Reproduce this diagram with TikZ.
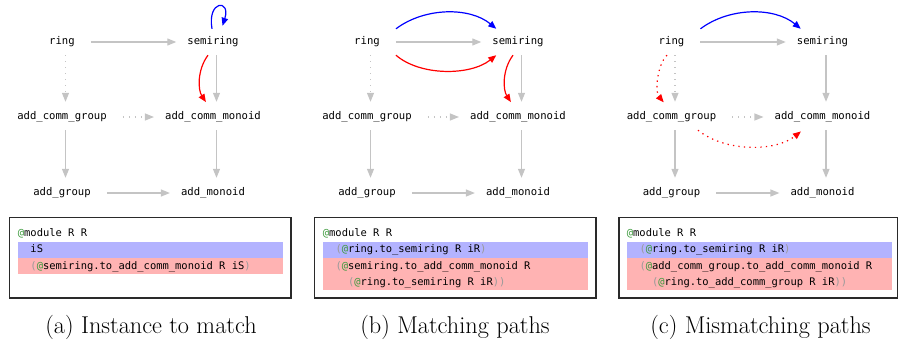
\documentclass[tikz,border=0pt]{standalone}
\usepackage{fontspec}
\setmonofont{DejaVu Sans Mono}
\usetikzlibrary{arrows.meta}
\definecolor{edgegray}{HTML}{C4C4C4}
\definecolor{bandblue}{HTML}{B3B3FF}
\definecolor{bandred}{HTML}{FFB3B3}
\definecolor{atgreen}{HTML}{3E9A3E}
\definecolor{pargray}{HTML}{9A9A9A}
\definecolor{boxline}{HTML}{2A2A2A}
\newcommand{\cAt}{\textcolor{atgreen}{@}}
\newcommand{\cLp}{\textcolor{pargray}{(}}
\newcommand{\cRp}{\textcolor{pargray}{)}}
\begin{document}
\begin{tikzpicture}[x=1pt,y=-1pt,
  gnode/.style={font=\ttfamily\fontsize{10.6}{12}\selectfont, inner xsep=9pt, inner ysep=0pt,
    minimum height=26pt, text height=7.6pt, text depth=2.4pt, execute at end node={\kern7pt}},
  codeline/.style={font=\ttfamily\fontsize{10.45}{12}\selectfont, anchor=base west, inner sep=0pt},
  caption/.style={font=\fontsize{24.3}{29}\selectfont, anchor=base, inner sep=0pt},
  garrow/.style={draw=edgegray, line width=1.2pt, -{Triangle[length=9pt,width=7pt]}, shorten >=2pt},
  gdot/.style={garrow, dash pattern=on 1pt off 5pt},
  bluearrow/.style={draw=blue, line width=1.2pt, -{Triangle[length=8pt,width=6.5pt]}},
  redarrow/.style={draw=red, line width=1.2pt, -{Triangle[length=8pt,width=6.5pt]}},
  reddot/.style={redarrow, dash pattern=on 1.3pt off 4.2pt},
  codebox/.style={draw=boxline, line width=1.3pt}
]
\useasboundingbox (0,0) rectangle (899,343);

\foreach \p/\dx in {a/0,b/305,c/609.5}{
  \begin{scope}[xshift=\dx pt]
    \node[gnode] (ring\p) at (65.5,42) {ring};
    \node[gnode] (semi\p) at (216.5,42) {semiring};
    \node[gnode] (acg\p) at (65.5,117) {add\_comm\_group};
    \node[gnode] (acm\p) at (216.5,117) {add\_comm\_monoid};
    \node[gnode] (ag\p) at (65.5,193) {add\_group};
    \node[gnode] (am\p) at (216.5,193) {add\_monoid};
  \end{scope}
  \draw[garrow] (ring\p) -- (semi\p);
  \draw[gdot] (ring\p) -- (acg\p);
  \draw[garrow] (semi\p) -- (acm\p);
  \draw[gdot] (acg\p) -- (acm\p);
  \draw[garrow] (acg\p) -- (ag\p);
  \draw[garrow] (acm\p) -- (am\p);
  \draw[garrow] (ag\p) -- (am\p);
}

% panel a extras
\draw[bluearrow] ([xshift=-4.5pt]semia.north) .. controls (207,0) and (231,-1) .. ([xshift=6pt,yshift=3pt]semia.north);
\draw[redarrow, shorten >=2pt] ([xshift=-8.5pt]semia.south) .. controls (197,70) and (198,90) .. ([xshift=-9.5pt]acma.north);

% panel b extras
\draw[bluearrow] (ringb.north east) .. controls (425,7) and (470,7) .. ([xshift=13pt]semib.north west);
\draw[redarrow] (ringb.south east) .. controls (420,76) and (470,76) .. ([xshift=13pt]semib.south west);
\draw[redarrow, shorten >=2pt] ([xshift=-8.5pt]semib.south) .. controls (502,70) and (503,90) .. ([xshift=-9.5pt]acmb.north);

% panel c extras
\draw[bluearrow] (ringc.north east) .. controls (729.5,7) and (774.5,7) .. ([xshift=13pt]semic.north west);
\draw[reddot, shorten >=2pt] ([xshift=-8pt]ringc.south) .. controls (657,65) and (655,92) .. ([xshift=-10pt]acgc.north);
\draw[reddot, shorten >=2pt] ([xshift=23pt]acgc.south) .. controls (725,152) and (775,152) .. ([xshift=-23.5pt]acmc.south);

% code boxes
\fill[bandblue] (17.7,242) rectangle (283,258.3);
\fill[bandred] (17.7,258.3) rectangle (283,274);
\fill[bandblue] (322.7,242) rectangle (587.7,258.3);
\fill[bandred] (322.7,258.3) rectangle (587.7,289.5);
\fill[bandblue] (626.7,242) rectangle (892.3,258.3);
\fill[bandred] (626.7,258.3) rectangle (892.3,289.5);
\draw[codebox] (9.5,217.5) rectangle (291,298);
\draw[codebox] (314.5,217.5) rectangle (596,298);
\draw[codebox] (619,217.5) rectangle (897.5,298);

\node[codeline] (a1) at (17.7,236.8) {\cAt module R R};
\node[codeline] (a2) at (30.3,252.8) {iS};
\node[codeline] (a3) at (30.3,269.3) {\cLp\cAt semiring.to\_add\_comm\_monoid R iS\cRp};

\node[codeline] (b1) at (322.7,236.8) {\cAt module R R};
\node[codeline] (b2) at (335.3,252.8) {\cLp\cAt ring.to\_semiring R iR\cRp};
\node[codeline] (b3) at (335.3,269.3) {\cLp\cAt semiring.to\_add\_comm\_monoid R};
\node[codeline] (b4) at (347.9,285.5) {\cLp\cAt ring.to\_semiring R iR\cRp\cRp};

\node[codeline] (c1) at (626.7,236.8) {\cAt module R R};
\node[codeline] (c2) at (639.3,252.8) {\cLp\cAt ring.to\_semiring R iR\cRp};
\node[codeline] (c3) at (639.3,269.3) {\cLp\cAt add\_comm\_group.to\_add\_comm\_monoid R};
\node[codeline] (c4) at (651.9,285.5) {\cLp\cAt ring.to\_add\_comm\_group R iR\cRp\cRp};

% captions
\node[caption] (capa) at (151,333.5) {(a) Instance to match};
\node[caption] (capb) at (455,333.5) {(b) Matching paths};
\node[caption] (capc) at (760.5,333.5) {(c) Mismatching paths};
\end{tikzpicture}
\end{document}
